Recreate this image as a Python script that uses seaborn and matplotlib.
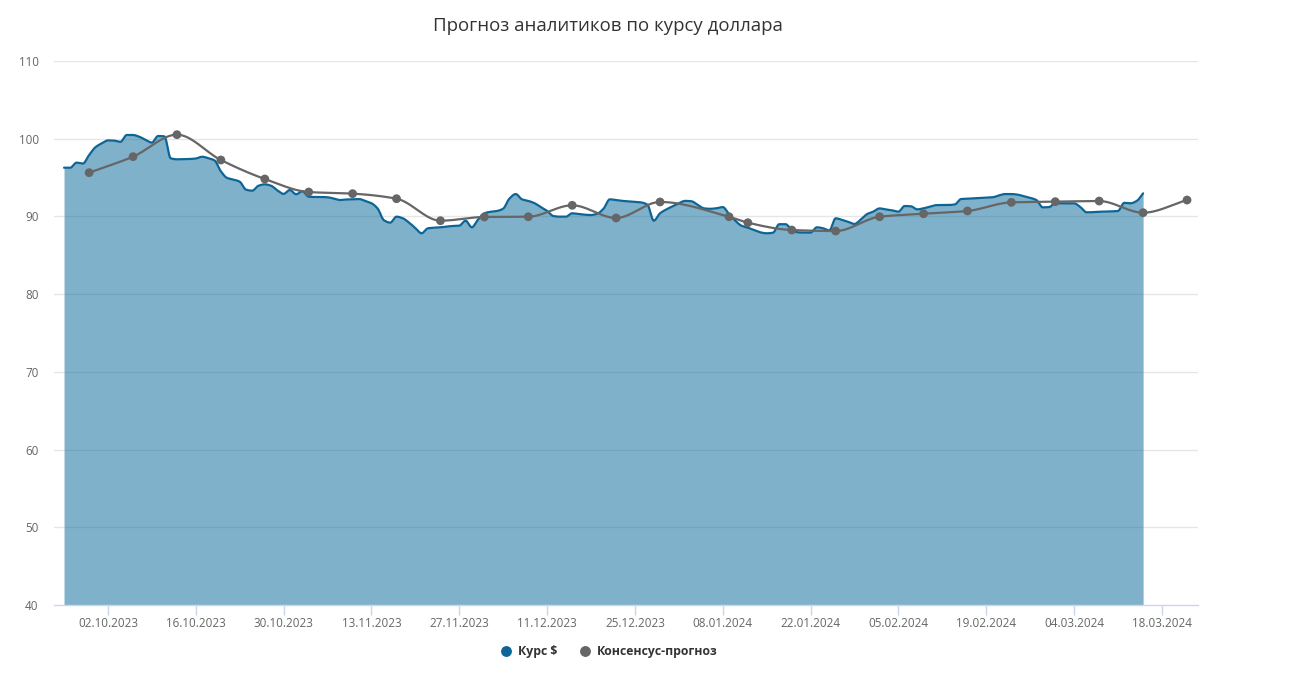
import numpy as np
import pandas as pd
import matplotlib
matplotlib.use("Agg")
import matplotlib.pyplot as plt
import matplotlib.dates as mdates
from matplotlib.lines import Line2D
import seaborn as sns

# ---------------- data ----------------
title = "Прогноз аналитиков по курсу доллара"
rate_label = "Курс $"
cons_label = "Консенсус-прогноз"

rate_start = "2023-09-25"
rate_values = [
    96.27, 96.27, 96.92, 96.8, 97.9, 98.9, 99.4, 99.78, 99.75, 99.6,
    100.48, 100.48, 100.25, 99.85, 99.5, 100.35, 100.3, 97.48, 97.35, 97.37,
    97.39, 97.45, 97.68, 97.5, 97.2, 95.8, 94.95, 94.75, 94.47, 93.45,
    93.31, 93.95, 94.13, 93.95, 93.35, 92.9, 93.4, 92.85, 93.25, 92.54,
    92.5, 92.5, 92.46, 92.3, 92.11, 92.18, 92.2, 92.24, 92.0, 91.7,
    91.0, 89.5, 89.2, 89.97, 89.76, 89.2, 88.5, 87.83, 88.47, 88.55,
    88.6, 88.7, 88.77, 88.81, 89.45, 88.6, 89.6, 90.4, 90.6, 90.7,
    91.0, 92.3, 92.88, 92.2, 92.0, 91.7, 91.2, 90.7, 90.05, 89.97,
    89.97, 90.4, 90.3, 90.22, 90.18, 90.35, 91.0, 92.2, 92.1, 92.0,
    91.95, 91.88, 91.8, 91.5, 89.45, 90.4, 90.9, 91.3, 91.7, 92.0,
    91.95, 91.5, 91.04, 90.98, 91.05, 91.2, 90.3, 89.45, 88.8, 88.55,
    88.25, 87.95, 87.83, 87.9, 89.0, 89.0, 88.3, 87.95, 87.92, 87.92,
    88.6, 88.47, 88.2, 89.76, 89.55, 89.3, 89.03, 89.6, 90.3, 90.62,
    91.03, 90.9, 90.78, 90.61, 91.34, 91.3, 90.91, 91.04, 91.25, 91.45,
    91.47, 91.47, 91.55, 92.24, 92.28, 92.33, 92.38, 92.42, 92.46, 92.7,
    92.88, 92.88, 92.8, 92.6, 92.4, 92.1, 91.17, 91.2, 91.69, 91.69,
    91.69, 91.69, 91.2, 90.53, 90.55, 90.6, 90.62, 90.65, 90.7, 91.75,
    91.69, 92.0, 92.97,
]

cons_dates = [
    "2023-09-29", "2023-10-06", "2023-10-13", "2023-10-20", "2023-10-27",
    "2023-11-03", "2023-11-10", "2023-11-17", "2023-11-24", "2023-12-01",
    "2023-12-08", "2023-12-15", "2023-12-22", "2023-12-29", "2024-01-09",
    "2024-01-12", "2024-01-19", "2024-01-26", "2024-02-02", "2024-02-09",
    "2024-02-16", "2024-02-23", "2024-03-01", "2024-03-08", "2024-03-15",
    "2024-03-22",
]
cons_values = [
    95.63, 97.69, 100.52, 97.26, 94.82, 93.14, 92.93, 92.28, 89.45, 89.93,
    89.96, 91.43, 89.80, 91.86, 89.96, 89.19, 88.25, 88.12, 89.96, 90.35,
    90.70, 91.81, 91.90, 91.98, 90.48, 92.11,
]

x_tick_labels = [
    "02.10.2023", "16.10.2023", "30.10.2023", "13.11.2023", "27.11.2023",
    "11.12.2023", "25.12.2023", "08.01.2024", "22.01.2024", "05.02.2024",
    "19.02.2024", "04.03.2024", "18.03.2024",
]
y_ticks = [40, 50, 60, 70, 80, 90, 100, 110]

# ---------------- styles ----------------
FILL_COLOR = "#0a6a9c"
LINE_COLOR = "#0d6596"
CONS_COLOR = "#666666"
GRID_COLOR = "#e6e6e6"
AXIS_COLOR = "#ccd6eb"
LABEL_COLOR = "#666666"
FONT = ["Open Sans", "DejaVu Sans"]


def smooth(xn, yn, n_per=12):
    """Monotone cubic (PCHIP-like) rendering of a polyline, for a spline look."""
    x = np.asarray(xn, float)
    y = np.asarray(yn, float)
    h = np.diff(x)
    d = np.diff(y) / h
    m = np.zeros_like(y)
    m[0], m[-1] = d[0], d[-1]
    for k in range(1, len(y) - 1):
        if d[k - 1] * d[k] > 0:
            w1 = 2 * h[k] + h[k - 1]
            w2 = h[k] + 2 * h[k - 1]
            m[k] = (w1 + w2) / (w1 / d[k - 1] + w2 / d[k])
    xs, ys = [], []
    for k in range(len(x) - 1):
        t = np.linspace(0, 1, n_per, endpoint=False)
        h00 = 2 * t**3 - 3 * t**2 + 1
        h10 = t**3 - 2 * t**2 + t
        h01 = -2 * t**3 + 3 * t**2
        h11 = t**3 - t**2
        xs.append(x[k] + t * h[k])
        ys.append(h00 * y[k] + h10 * h[k] * m[k] + h01 * y[k + 1] + h11 * h[k] * m[k + 1])
    xs.append([x[-1]])
    ys.append([y[-1]])
    return np.concatenate(xs), np.concatenate(ys)


rate_df = pd.DataFrame({
    "date": pd.date_range(rate_start, periods=len(rate_values), freq="D"),
    "value": rate_values,
})
cons_df = pd.DataFrame({"date": pd.to_datetime(cons_dates), "value": cons_values})

sns.set_theme(style="white")
plt.rcParams["font.family"] = FONT

fig = plt.figure(figsize=(13, 7), dpi=100)
ax = fig.add_axes([54 / 1300, 1 - 605 / 700, (1198 - 54) / 1300, (605 - 61) / 700])

# grid
for v in y_ticks[1:]:
    ax.axhline(v, color=GRID_COLOR, lw=1, zorder=0)

# rate area (spline)
rx, ry = smooth(mdates.date2num(rate_df["date"]), rate_df["value"], n_per=8)
ax.fill_between(rx, 40, ry, color=FILL_COLOR, alpha=0.52, lw=0, zorder=1)
ax.plot(rx, ry, color=LINE_COLOR, lw=1.6, zorder=2, solid_joinstyle="round")

# consensus line (spline) + markers
cx, cy = smooth(mdates.date2num(cons_df["date"]), cons_df["value"], n_per=30)
ax.plot(cx, cy, color=CONS_COLOR, lw=1.6, zorder=3)
sns.scatterplot(data=cons_df, x="date", y="value", ax=ax, color=CONS_COLOR,
                s=40, edgecolor="none", zorder=4, legend=False)

# axes
tick_pos = pd.to_datetime(x_tick_labels, format="%d.%m.%Y")
ax.set_xlim(tick_pos[0] - pd.Timedelta(days=8.6), tick_pos[-1] + pd.Timedelta(days=5.75))
ax.set_ylim(40, 110)
ax.set_xticks(tick_pos)
ax.set_xticklabels(x_tick_labels)
ax.set_yticks(y_ticks)
ax.set_yticklabels([str(v) for v in y_ticks])
ax.set_xlabel("")
ax.set_ylabel("")
for s in ["top", "right", "left"]:
    ax.spines[s].set_visible(False)
ax.spines["bottom"].set_color(AXIS_COLOR)
ax.spines["bottom"].set_linewidth(1)
ax.spines["bottom"].set_zorder(5)
ax.tick_params(axis="x", length=7.5, width=1, color=AXIS_COLOR, pad=1,
               labelsize=8.4, labelcolor=LABEL_COLOR, bottom=True)
ax.tick_params(axis="y", length=0, pad=11, labelsize=8.4, labelcolor=LABEL_COLOR)
ax.set_facecolor("white")

fig.text(608 / 1300, 1 - 26 / 700, title, ha="center", va="center",
         fontsize=13.4, color="#333333")

handles = [
    Line2D([], [], marker="o", ls="", color=LINE_COLOR, markersize=6.8),
    Line2D([], [], marker="o", ls="", color=CONS_COLOR, markersize=6.8),
]
fig.legend(handles, [rate_label, cons_label], loc="center",
           bbox_to_anchor=(609 / 1300, 1 - 652 / 700), ncol=2, frameon=False,
           prop={"weight": "bold", "size": 8.8, "family": FONT},
           labelcolor="#333333", handletextpad=0.5, columnspacing=1.75,
           handlelength=1.0)

fig.savefig("out.png", dpi=100, facecolor="white")
